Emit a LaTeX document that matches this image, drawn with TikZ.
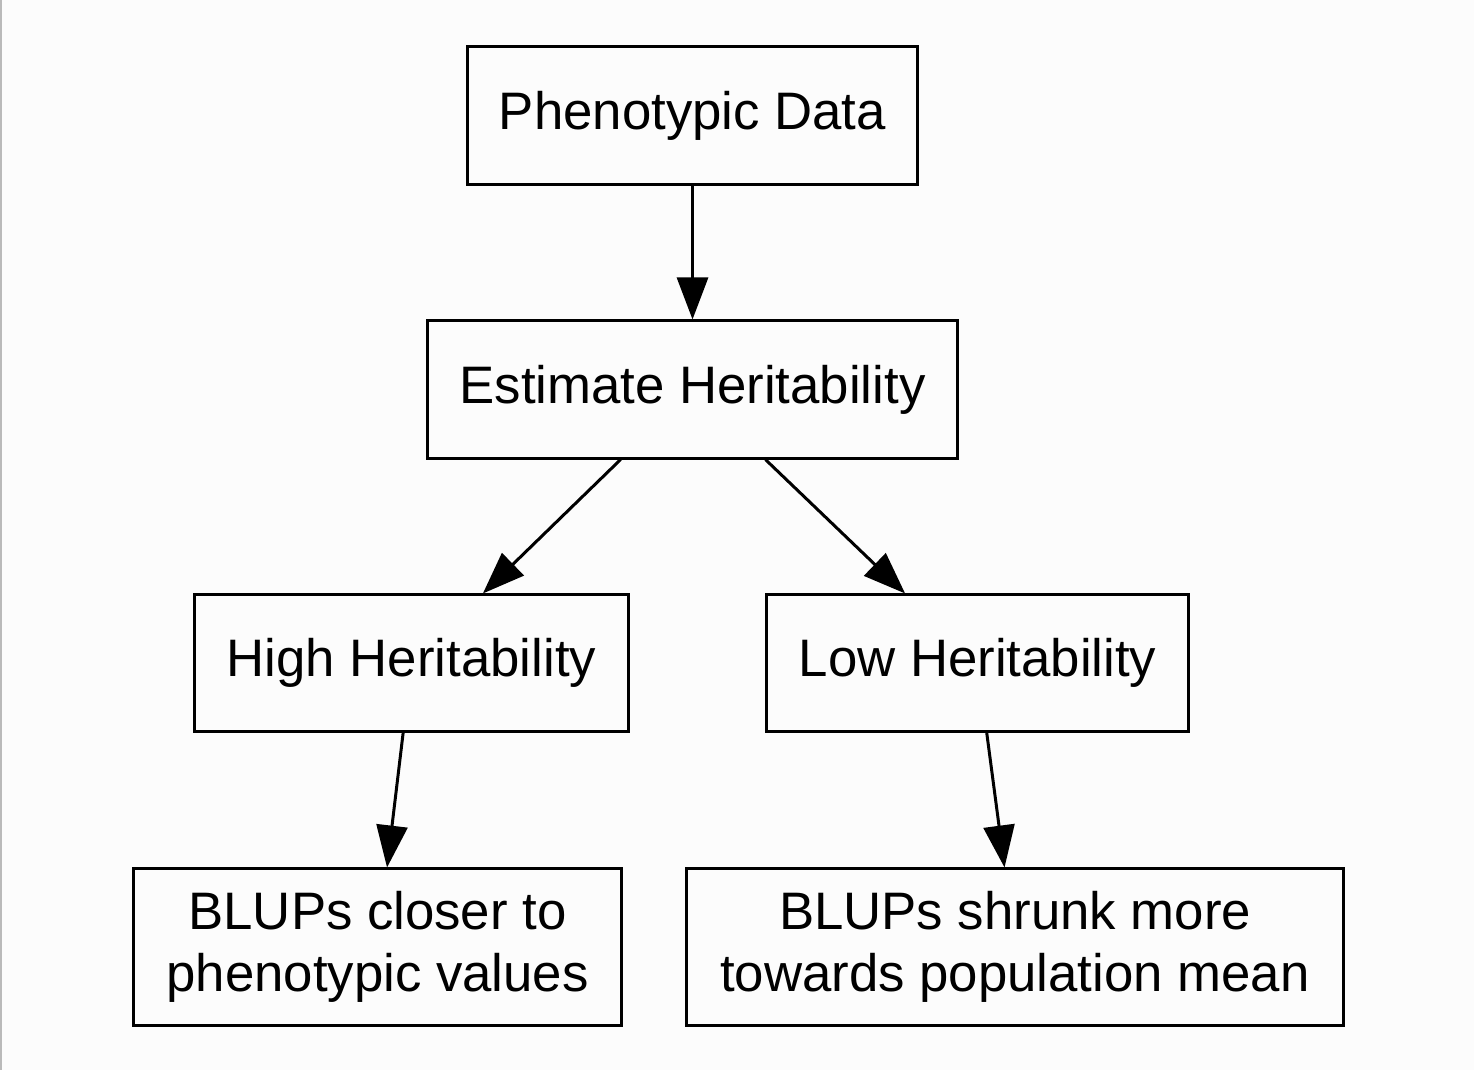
\documentclass[tikz,border=0pt]{standalone}
\usepackage{fontspec}
\setmainfont{Liberation Sans}
\usetikzlibrary{arrows.meta}
\begin{document}
\begin{tikzpicture}[x=0.01cm,y=-0.01cm,
  box/.style={draw=black, line width=0.85pt, rectangle, inner sep=0pt, align=center,
    font=\fontsize{15}{17.8}\selectfont},
  arr/.style={line width=0.85pt, -{Triangle[length=4.2mm,width=3.1mm]}}]
\fill[white!99!black] (0,0) rectangle (1474,1070);
\useasboundingbox (0,0) rectangle (1474,1070);
\fill[black!27] (0,0) rectangle (2,1070);
\node[box, minimum width=4.49cm, minimum height=1.37cm] (pd) at (692.5,115.5) {Phenotypic Data};
\node[box, minimum width=5.29cm, minimum height=1.37cm] (eh) at (692.5,389.5) {Estimate Heritability};
\node[box, minimum width=4.33cm, minimum height=1.36cm] (hh) at (411.5,663) {High Heritability};
\node[box, minimum width=4.21cm, minimum height=1.36cm] (lh) at (977.5,663) {Low Heritability};
\node[box, minimum width=4.87cm, minimum height=1.56cm] (bc) at (377.5,947) {BLUPs closer to\\phenotypic values};
\node[box, minimum width=6.56cm, minimum height=1.56cm] (bs) at (1015,947) {BLUPs shrunk more\\towards population mean};
\draw[arr] (pd) -- (eh);
\draw[arr] (eh) -- (hh);
\draw[arr] (eh) -- (lh);
\draw[arr] (hh) -- (bc);
\draw[arr] (lh) -- (bs);
\end{tikzpicture}
\end{document}
